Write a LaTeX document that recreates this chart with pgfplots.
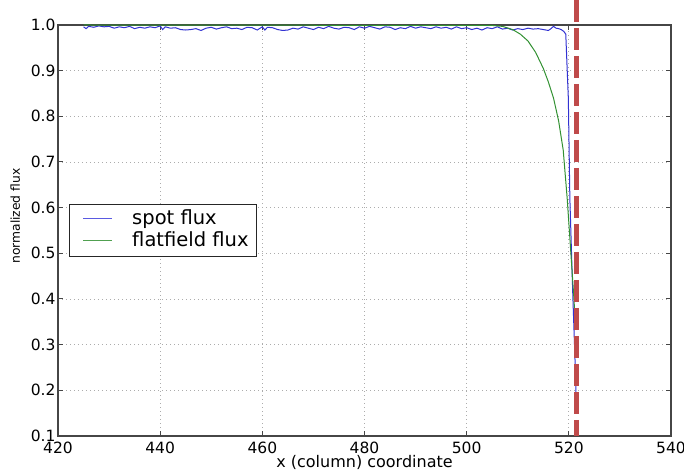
\documentclass[border=0pt]{standalone}
\usepackage{pgfplots}
\pgfplotsset{compat=1.18}
\usepackage{fontspec}
\setmainfont{DejaVu Sans}
\definecolor{spotblue}{RGB}{50,50,210}
\definecolor{flatgreen}{RGB}{50,145,50}
\definecolor{legblue}{RGB}{90,90,225}
\definecolor{leggreen}{RGB}{80,160,80}
\definecolor{vred}{RGB}{191,74,74}
\definecolor{frame}{RGB}{70,70,70}
\begin{document}
\begin{tikzpicture}
\begin{axis}[
  name=ax,
  scale only axis,
  width=613pt, height=411pt,
  xmin=420, xmax=540, ymin=0.1, ymax=1.0,
  xtick={420,440,...,540},
  ytick={0.1,0.2,0.3,0.4,0.5,0.6,0.7,0.8,0.9,1.0},
  yticklabel style={xshift=1pt, /pgf/number format/fixed, /pgf/number format/fixed zerofill, /pgf/number format/precision=1},
  /pgf/number format/assume math mode=true,
  tick label style={font=\fontsize{15.5}{17}\selectfont},
  xticklabel style={yshift=-2pt},
  xlabel={x (column) coordinate},
  ylabel={normalized flux},
  xlabel style={font=\fontsize{16}{18}\selectfont, yshift=4.5pt},
  ylabel style={font=\fontsize{12.3}{14}\selectfont, at={(ticklabel cs:0.535)}, yshift=4pt},
  axis line style={frame, line width=1.3pt},
  tick style={frame, line width=1pt},
  major tick length=5pt,
  tick align=inside,
  xtick pos=both, ytick pos=both,
  grid=major,
  major grid style={gray!65, line width=0.8pt, dash pattern=on 1pt off 3pt},
  clip=false,
  legend style={at={(0.018,0.5)}, anchor=west, draw=none, name=leg,
    font=\fontsize{19.5}{22}\selectfont, inner xsep=6pt, inner ysep=4pt,
    row sep=0pt, nodes={text height=15pt, text depth=4pt, inner ysep=1.5pt}},
  legend cell align=left,
  legend image code/.code={\path[draw=none] (-8pt,0pt) -- (47pt,0pt);},
]
\addplot[color=spotblue, line width=1pt] coordinates {
(425,0.996) (425.5,0.992) (426,0.997) (427,0.995) (428,0.998) (429,0.996) (430,0.997)
(431,0.993) (432,0.996) (433,0.994) (434,0.997) (435,0.992) (436,0.995) (437,0.993)
(438,0.996) (439,0.994) (440,0.998) (440.5,0.990) (441,0.996) (442,0.993) (443,0.994)
(444,0.990) (445,0.989) (446,0.990) (447,0.992) (448,0.988) (449,0.993) (450,0.995)
(451,0.991) (452,0.994) (453,0.996) (454,0.992) (455,0.993) (456,0.990) (457,0.995)
(458,0.994) (459,0.989) (460,0.996) (460.5,0.989) (461,0.995) (462,0.994) (463,0.990)
(464,0.988) (465,0.989) (466,0.993) (467,0.991) (468,0.996) (469,0.993) (470,0.990)
(471,0.995) (472,0.992) (473,0.997) (474,0.993) (475,0.991) (476,0.995) (477,0.994)
(478,0.990) (479,0.996) (480,0.993) (481,0.997) (482,0.994) (483,0.991) (484,0.996)
(485,0.995) (486,0.990) (487,0.994) (488,0.992) (489,0.997) (490,0.993) (491,0.996)
(492,0.994) (493,0.992) (494,0.996) (495,0.993) (496,0.995) (497,0.991) (498,0.996)
(499,0.992) (500,0.994) (501,0.990) (502,0.993) (503,0.989) (504,0.994) (505,0.992)
(506,0.996) (507,0.991) (508,0.993) (509,0.989) (510,0.992) (511,0.990) (512,0.993)
(513,0.991) (514,0.992) (515,0.990) (516,0.988) (516.5,0.992) (517,0.997) (517.5,0.993)
(518,0.992) (518.5,0.990) (519,0.986) (519.4,0.980) (519.9,0.840) (520.2,0.620)
(520.8,0.400) (521.2,0.270) (521.5,0.160) (521.6,0.150)
};
\addlegendentry{spot flux}
\addplot[color=flatgreen, line width=1pt] coordinates {
(425,1.0) (505,0.999) (507,0.997) (509,0.990) (510.5,0.980) (512,0.965) (513.5,0.940)
(515,0.905) (516,0.875) (517,0.840) (518,0.790) (518.9,0.726) (519.7,0.617)
(520.1,0.550) (520.4,0.500) (520.7,0.450) (521.0,0.400) (521.2,0.360)
};
\addlegendentry{flatfield flux}
\addplot[draw=vred, line width=4.5pt, dash pattern=on 22pt off 6pt, forget plot]
  coordinates {(521.5,1.055) (521.5,0.1)};
\end{axis}
\draw[black!85, line width=1pt] (leg.south west) rectangle (leg.north east);
\draw[legblue, line width=1.2pt] ([xshift=14pt,yshift=-14.5pt]leg.north west) -- ++(29pt,0pt);
\draw[leggreen, line width=1.2pt] ([xshift=14pt,yshift=-36.5pt]leg.north west) -- ++(29pt,0pt);
\pgfresetboundingbox
\path[use as bounding box] ([xshift=-58pt,yshift=-34pt]ax.south west) rectangle ([xshift=13pt,yshift=25pt]ax.north east);
\end{tikzpicture}
\end{document}
